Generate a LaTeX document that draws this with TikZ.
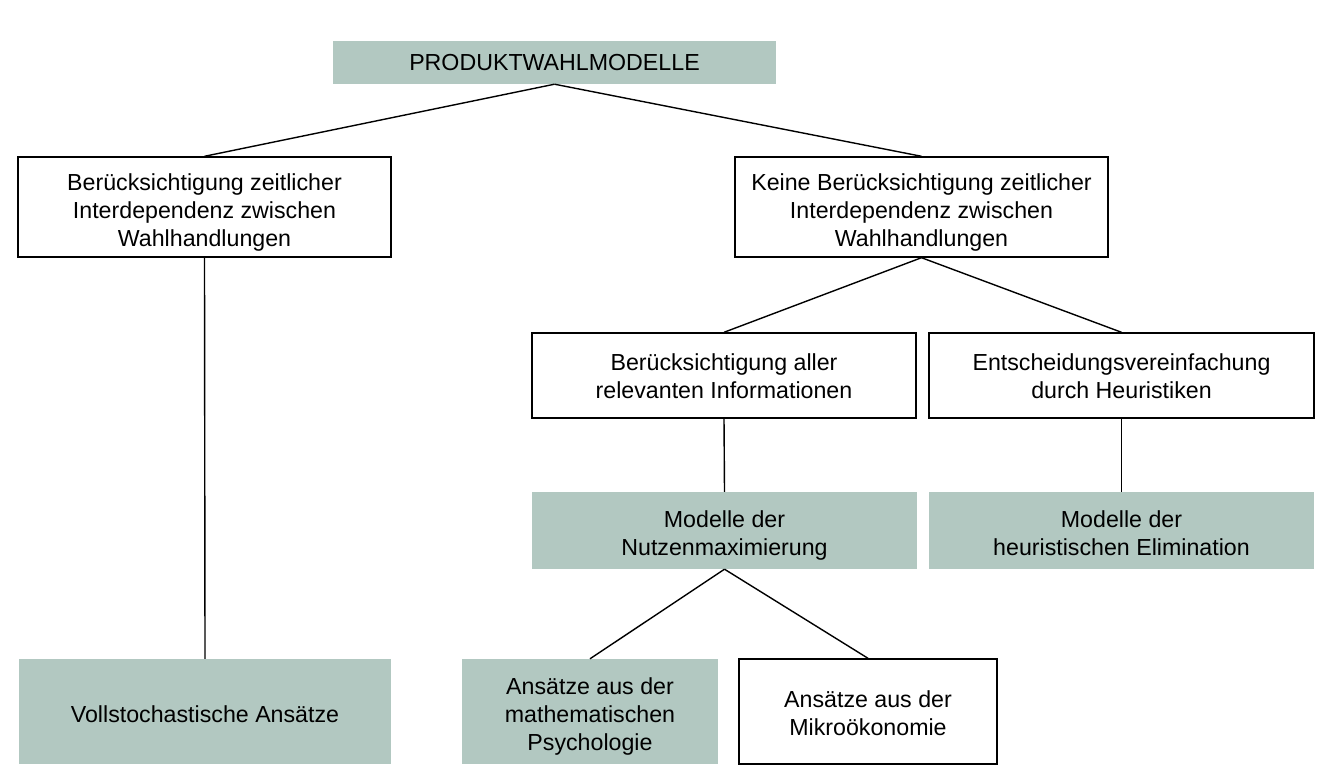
\documentclass[tikz,border=0pt]{standalone}
\usepackage{fontspec}
\setmainfont{Liberation Sans}
\definecolor{boxgreen}{HTML}{B2C8C1}
\newcommand\txtdown[1]{\rule{0pt}{#1}}
\begin{document}
\begin{tikzpicture}[x=1pt,y=-1pt,
  base/.style={rectangle, inner sep=0pt, align=center, font=\fontsize{23.2}{28}\selectfont},
  filledbox/.style={base, fill=boxgreen},
  whitebox/.style={base, draw=black, line width=1.4pt, fill=white},
  conn/.style={line width=1.4pt}]
\useasboundingbox (0,0) rectangle (1340,778);
\node[filledbox, minimum width=443pt, minimum height=43pt] (top) at (554.5,62.5) {PRODUKTWAHLMODELLE};
\node[whitebox, minimum width=373pt, minimum height=100pt] (left) at (204.5,207) {\txtdown{27pt}Berücksichtigung zeitlicher\\Interdependenz zwischen\\Wahlhandlungen};
\node[whitebox, minimum width=373pt, minimum height=100pt] (right) at (921.5,207) {\txtdown{27pt}Keine Berücksichtigung zeitlicher\\Interdependenz zwischen\\Wahlhandlungen};
\node[whitebox, minimum width=384pt, minimum height=85pt] (aller) at (724,375.5) {\txtdown{19pt}Berücksichtigung aller\\relevanten Informationen};
\node[whitebox, minimum width=385pt, minimum height=85pt] (heur) at (1121.5,375.5) {\txtdown{19pt}Entscheidungsvereinfachung\\durch Heuristiken};
\node[filledbox, minimum width=385pt, minimum height=77pt] (nutzen) at (724.5,530.5) {\txtdown{27pt}Modelle der\\Nutzenmaximierung};
\node[filledbox, minimum width=385pt, minimum height=77pt] (elim) at (1121.5,530.5) {\txtdown{23pt}Modelle der\\heuristischen Elimination};
\node[filledbox, minimum width=372pt, minimum height=105pt] (voll) at (205,711.5) {\txtdown{23pt}Vollstochastische Ansätze};
\node[filledbox, minimum width=256pt, minimum height=105pt] (psych) at (590,711.5) {\txtdown{27pt}Ansätze aus der\\mathematischen\\Psychologie};
\node[whitebox, minimum width=258pt, minimum height=105pt] (mikro) at (868,711.5) {\txtdown{21pt}Ansätze aus der\\Mikroökonomie};
\draw[conn] (top.south) -- (left.north);
\draw[conn] (top.south) -- (right.north);
\draw[conn] (left.south) -- (voll.north);
\draw[conn] (right.south) -- (aller.north);
\draw[conn] (right.south) -- (heur.north);
\draw[conn] (aller.south) -- (nutzen.north);
\draw[conn] (heur.south) -- (elim.north);
\draw[conn] (nutzen.south) -- (psych.north);
\draw[conn] (nutzen.south) -- (mikro.north);
\end{tikzpicture}
\end{document}
